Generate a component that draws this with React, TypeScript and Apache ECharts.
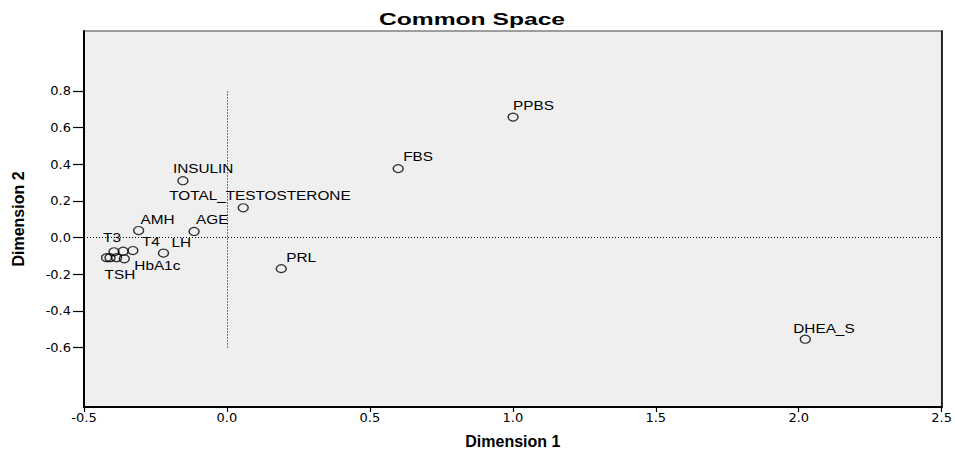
import React, { useEffect, useRef } from "react";
import * as echarts from "echarts";

// Variable names (empty = label hidden by overlap in the source chart)
const names: string[] = [
  "PPBS", "FBS", "INSULIN", "TOTAL_TESTOSTERONE", "AMH", "AGE", "LH", "PRL",
  "DHEA_S", "T3", "T4", "TSH", "HbA1c", "", "", "",
];
// Dimension 1 coordinates
const dim1: number[] = [
  1.001, 0.599, -0.154, 0.057, -0.309, -0.115, -0.222, 0.19,
  2.023, -0.395, -0.329, -0.421, -0.359, -0.409, -0.386, -0.363,
];
// Dimension 2 coordinates
const dim2: number[] = [
  0.657, 0.376, 0.31, 0.162, 0.038, 0.033, -0.085, -0.17,
  -0.555, -0.078, -0.071, -0.11, -0.116, -0.11, -0.11, -0.075,
];
const xTicks: number[] = [-0.5, 0, 0.5, 1, 1.5, 2, 2.5];
const yTicks: number[] = [-0.6, -0.4, -0.2, 0, 0.2, 0.4, 0.6, 0.8];

// label placement (pixels, relative to the point) — styling only
const labelOffsets: Record<string, [number, number]> = {
  PPBS: [0, -12],
  FBS: [5, -12],
  INSULIN: [-10, -12],
  TOTAL_TESTOSTERONE: [-74, -12],
  AMH: [2, -11],
  AGE: [2, -12],
  LH: [8, -11],
  PRL: [5, -11],
  DHEA_S: [-12, -11],
  T3: [-11, -14],
  T4: [9, -9],
  TSH: [-2, 17],
  HbA1c: [10, 7],
};

export default function App() {
  const ref = useRef<HTMLDivElement>(null);
  useEffect(() => {
    if (!ref.current) return;
    const chart = echarts.init(ref.current, undefined, { renderer: "svg" });
    const points = dim1.map((x, i) => [x, dim2[i], i]);
    const fmt = (v: number) => (Math.abs(v) < 1e-9 ? "0.0" : v.toFixed(1));
    chart.setOption({
      animation: false,
      backgroundColor: "#ffffff",
      textStyle: { fontFamily: "'Liberation Sans', Arial, sans-serif" },
      graphic: [
        {
          type: "text",
          x: 472,
          y: 19,
          scaleX: 1.45,
          style: {
            text: "Common Space",
            font: "bold 17px 'Liberation Sans', Arial, sans-serif",
            fill: "#000",
            align: "center",
            verticalAlign: "middle",
          },
        },
      ],
      grid: {
        left: 84,
        right: 11,
        top: 31,
        bottom: 46,
        show: true,
        backgroundColor: "#efefef",
        borderColor: "#808080",
        borderWidth: 1.5,
      },
      xAxis: {
        type: "value",
        min: xTicks[0],
        max: xTicks[xTicks.length - 1],
        interval: 0.5,
        axisLine: { show: true, onZero: false, lineStyle: { color: "#000", width: 2 } },
        axisTick: { show: true, length: 5, lineStyle: { color: "#000", width: 1.2 } },
        axisLabel: {
          formatter: fmt,
          color: "#000",
          fontSize: 13,
          fontFamily: "'DejaVu Sans', sans-serif",
          margin: 4,
        },
        splitLine: { show: false },
        name: "Dimension 1",
        nameLocation: "middle",
        nameGap: 26,
        nameTextStyle: { fontWeight: "bold", fontSize: 16, color: "#000" },
      },
      yAxis: [
        {
          type: "value",
          min: -0.925,
          max: 1.127,
          axisLine: { show: true, onZero: false, lineStyle: { color: "#000", width: 2 } },
          axisTick: {
            show: true,
            length: 11,
            customValues: yTicks,
            lineStyle: { color: "#000", width: 1.2 },
          },
          axisLabel: {
            customValues: yTicks,
            formatter: fmt,
            color: "#000",
            fontSize: 13,
            fontFamily: "'DejaVu Sans', sans-serif",
            margin: 13,
          },
          splitLine: { show: false },
          name: "Dimension 2",
          nameLocation: "middle",
          nameGap: 58,
          nameTextStyle: { fontWeight: "bold", fontSize: 16, color: "#000" },
        },
        {
          type: "value",
          position: "right",
          min: -0.925,
          max: 1.127,
          axisLine: { show: true, onZero: false, lineStyle: { color: "#000", width: 1.5 } },
          axisTick: { show: false },
          axisLabel: { show: false },
          splitLine: { show: false },
        },
      ],
      series: [
        {
          type: "scatter",
          yAxisIndex: 0,
          data: points,
          symbol: "circle",
          symbolSize: [10, 8],
          itemStyle: { color: "rgba(0,0,0,0)", borderColor: "#000", borderWidth: 1.3 },
          silent: true,
          markLine: {
            silent: true,
            symbol: "none",
            label: { show: false },
            lineStyle: { color: "#000", type: [1, 2], width: 1 },
            data: [
              { yAxis: 0 },
              [{ coord: [0, yTicks[0]] }, { coord: [0, yTicks[yTicks.length - 1]] }],
            ],
          },
          z: 3,
        },
        {
          type: "custom",
          yAxisIndex: 0,
          data: points,
          silent: true,
          z: 4,
          renderItem: (params: any, api: any) => {
            const idx = api.value(2);
            const name = names[idx];
            if (!name) return null;
            const p = api.coord([api.value(0), api.value(1)]);
            const off = labelOffsets[name] || [0, -12];
            return {
              type: "text",
              x: p[0] + off[0],
              y: p[1] + off[1],
              scaleX: 1.18,
              style: {
                text: name,
                font: "13px 'Liberation Sans', Arial, sans-serif",
                fill: "#000",
                align: "left",
                verticalAlign: "middle",
              },
            };
          },
        },
      ],
    });
    return () => chart.dispose();
  }, []);
  return (
    <div
      ref={ref}
      style={{ position: "fixed", left: 0, top: 0, width: 955, height: 454 }}
    />
  );
}
